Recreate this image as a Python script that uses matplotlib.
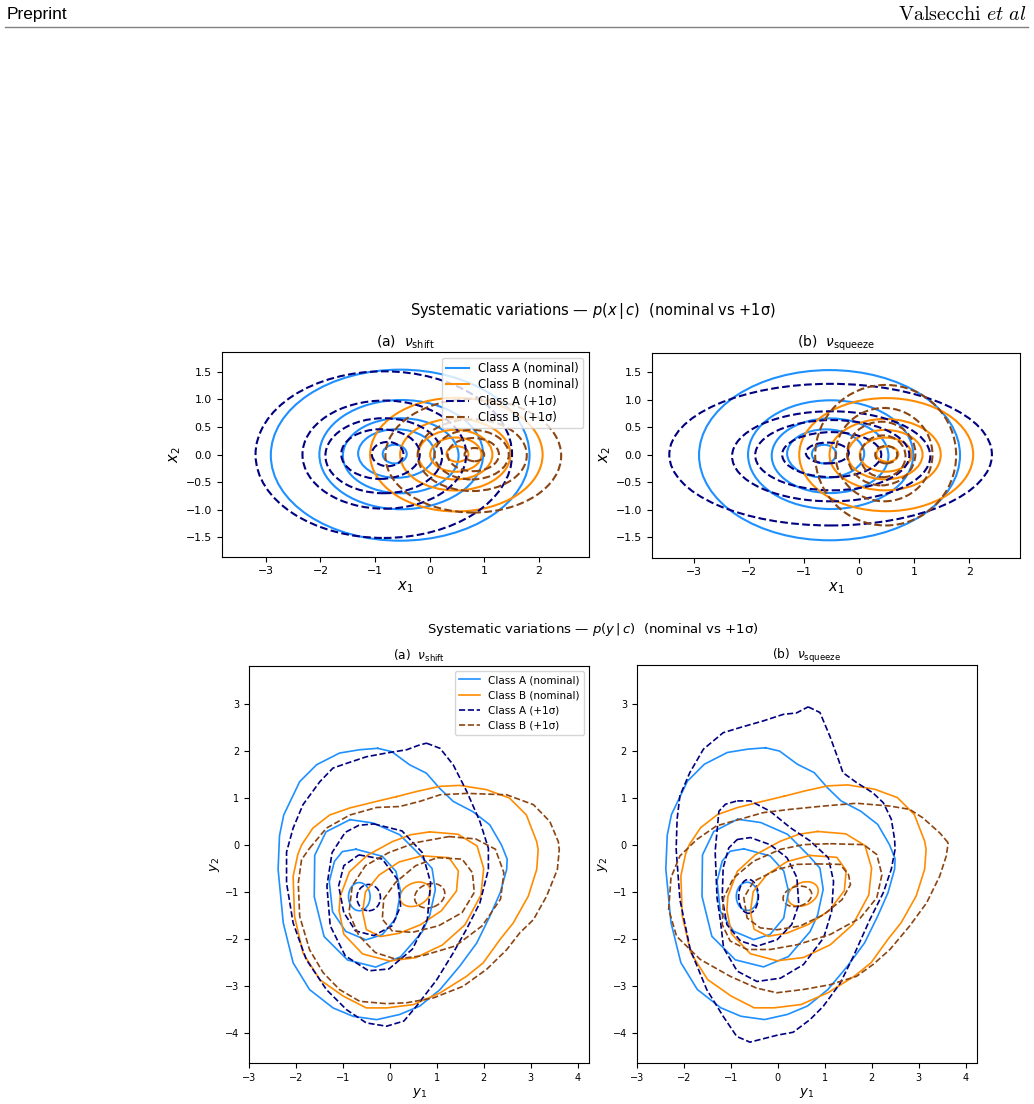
import matplotlib
matplotlib.use("Agg")
import matplotlib.pyplot as plt
from matplotlib.patches import Ellipse
from matplotlib.lines import Line2D

# ---------------- colours / labels ----------------
C_A_NOM = "#1E90FF"
C_B_NOM = "#FF8C00"
C_A_SYS = "#000080"
C_B_SYS = "#8B4513"
legend_labels = ["Class A (nominal)", "Class B (nominal)", "Class A (+1σ)", "Class B (+1σ)"]

# ---------------- figure 1 : p(x|c), contours read as ellipses ----------------
# per level: centre x, centre y, half-width, half-height
xA_nom_cx = [-0.54, -0.52, -0.53, -0.61, -0.64]
xA_nom_cy = [-0.01, 0.00, -0.02, 0.02, 0.01]
xA_nom_hw = [2.37, 1.50, 1.06, 0.70, 0.22]
xA_nom_hh = [1.55, 0.99, 0.68, 0.44, 0.17]

xB_nom_cx = [0.49, 0.47, 0.47, 0.48, 0.51]
xB_nom_cy = [0.00, 0.00, 0.00, 0.00, 0.01]
xB_nom_hw = [1.58, 1.01, 0.68, 0.47, 0.20]
xB_nom_hh = [1.03, 0.65, 0.45, 0.31, 0.14]

xA_shift_cx = [-0.84, -0.83, -0.84, -0.90, -0.77]
xA_shift_cy = [0.00, 0.00, -0.02, 0.01, 0.01]
xA_shift_hw = [2.35, 1.50, 1.07, 0.72, 0.29]
xA_shift_hh = [1.51, 0.98, 0.68, 0.45, 0.22]

xB_shift_cx = [0.80, 0.78, 0.77, 0.80, 0.82]
xB_shift_cy = [-0.02, -0.01, 0.00, 0.00, 0.00]
xB_shift_hw = [1.61, 1.00, 0.68, 0.47, 0.18]
xB_shift_hh = [1.03, 0.65, 0.45, 0.30, 0.12]

xA_sq_cx = [-0.52, -0.51, -0.49, -0.50, -0.58]
xA_sq_cy = [0.00, -0.03, -0.01, 0.00, 0.03]
xA_sq_hw = [2.93, 1.80, 1.40, 0.90, 0.39]
xA_sq_hh = [1.29, 0.82, 0.64, 0.41, 0.19]

xB_sq_cx = [0.48, 0.45, 0.40, 0.43, 0.49]
xB_sq_cy = [-0.01, 0.00, 0.02, -0.03, 0.00]
xB_sq_hw = [1.28, 0.88, 0.62, 0.41, 0.20]
xB_sq_hh = [1.28, 0.85, 0.58, 0.38, 0.16]

# ---------------- figure 2 : p(y|c), contour outlines ----------------
yA_nom_1 = ([-0.26, 0.04, 0.42, 0.78, 1.06, 1.35, 1.77, 2.13, 2.38, 2.50, 2.49, 2.35, 2.13, 1.85, 1.49, 1.07, 0.64, 0.21, -0.28, -0.78, -1.21, -1.71, -2.06, -2.27, -2.38, -2.35, -2.26, -1.92, -1.56, -1.07, -0.64],
            [2.06, 1.99, 1.71, 1.53, 1.21, 0.93, 0.71, 0.43, 0.00, -0.30, -0.52, -1.02, -1.52, -2.09, -2.58, -3.08, -3.43, -3.61, -3.72, -3.65, -3.47, -3.08, -2.51, -1.66, -0.52, 0.20, 0.64, 1.35, 1.71, 1.96, 2.03])
yA_nom_2 = ([-0.85, -0.36, 0.21, 0.64, 0.90, 0.97, 0.85, 0.69, 0.23, -0.30, -0.90, -1.40, -1.61, -1.60, -1.36],
            [0.54, 0.47, 0.22, -0.21, -0.50, -0.95, -1.50, -1.85, -2.38, -2.60, -2.45, -1.95, -1.10, -0.22, 0.28])
yA_nom_3 = ([-0.72, -0.16, 0.13, 0.23, 0.13, -0.16, -0.51, -0.94, -1.22, -1.29, -1.18, -1.01],
            [-0.09, -0.24, -0.56, -0.99, -1.56, -1.91, -2.02, -1.84, -1.42, -0.78, -0.35, -0.14])
yA_nom_4 = (-0.65, -1.10, 0.46, 0.60, 0)   # centre x, centre y, width, height, angle

yB_nom_1 = ([0.14, 0.57, 1.07, 1.49, 2.06, 2.55, 2.91, 3.13, 3.16, 3.13, 2.95, 2.63, 2.35, 1.99, 1.63, 1.07, 0.50, -0.07, -0.50, -0.99, -1.49, -1.85, -2.03, -2.06, -1.96, -1.88, -1.64, -1.28, -0.85, -0.28],
            [1.03, 1.14, 1.25, 1.27, 1.18, 1.00, 0.64, 0.07, -0.10, -0.52, -1.09, -1.66, -2.01, -2.51, -2.80, -3.15, -3.40, -3.47, -3.47, -3.22, -2.87, -2.30, -1.52, -0.67, -0.20, 0.00, 0.36, 0.64, 0.79, 0.93])
yB_nom_2 = ([0.85, 1.45, 1.86, 2.00, 1.94, 1.60, 1.12, 0.55, -0.01, -0.58, -0.98, -1.08, -1.06, -0.86, -0.48, 0.05, 0.45],
            [0.28, 0.23, -0.02, -0.50, -1.07, -1.70, -2.13, -2.40, -2.47, -2.32, -1.90, -1.40, -1.10, -0.57, -0.22, 0.07, 0.22])
yB_nom_3 = ([0.69, 1.26, 1.46, 1.42, 1.10, 0.65, 0.20, -0.20, -0.50, -0.58, -0.52, -0.23, 0.20],
            [-0.23, -0.27, -0.55, -0.98, -1.40, -1.70, -1.88, -1.95, -1.80, -1.43, -1.00, -0.64, -0.36])
yB_nom_4 = (0.54, -1.05, 0.68, 0.48, 25)

yA_shift_1 = ([0.78, 1.07, 1.35, 1.64, 1.92, 2.10, 2.10, 1.92, 1.63, 1.35, 1.00, 0.57, 0.30, -0.07, -0.50, -0.92, -1.35, -1.78, -2.06, -2.20, -2.20, -2.06, -1.85, -1.49, -1.21, -0.92, -0.50, -0.07, 0.36, 0.60],
              [2.17, 2.06, 1.71, 1.14, 0.50, -0.07, -0.52, -1.23, -1.80, -2.30, -2.87, -3.43, -3.75, -3.86, -3.79, -3.51, -3.08, -2.44, -1.66, -0.81, -0.15, 0.36, 0.86, 1.35, 1.64, 1.74, 1.88, 1.96, 2.03, 2.12])
yA_shift_2 = ([-0.34, 0.26, 0.69, 0.87, 0.80, 0.48, -0.02, -0.45, -0.95, -1.27, -1.34, -1.23, -0.95, -0.66],
              [0.45, 0.30, -0.16, -0.80, -1.58, -2.22, -2.64, -2.68, -2.36, -1.72, -0.87, -0.16, 0.27, 0.42])
yA_shift_3 = ([-0.66, -0.16, 0.16, 0.23, 0.05, -0.34, -0.73, -0.98, -1.09, -0.98],
              [-0.21, -0.30, -0.73, -1.30, -1.72, -1.93, -1.83, -1.44, -0.87, -0.44])
yA_shift_4 = (-0.45, -1.12, 0.50, 0.56, 0)

yB_shift_1 = ([-1.71, -1.35, -0.85, -0.28, 0.21, 0.64, 1.07, 1.64, 2.49, 3.06, 3.41, 3.59, 3.61, 3.57, 3.34, 3.06, 2.77, 2.49, 2.06, 1.56, 0.92, 0.36, -0.07, -0.64, -1.07, -1.42, -1.71, -1.92, -1.95, -1.88],
              [-0.07, 0.36, 0.64, 0.80, 0.82, 0.93, 1.07, 1.10, 1.07, 0.86, 0.50, 0.07, -0.10, -0.52, -1.09, -1.59, -1.87, -2.23, -2.65, -3.01, -3.26, -3.36, -3.38, -3.33, -3.08, -2.72, -2.23, -1.52, -0.81, -0.31])
yB_shift_2 = ([1.26, 1.83, 2.25, 2.43, 2.36, 1.97, 1.40, 0.69, 0.12, -0.31, -0.66, -0.87, -0.80, -0.52, -0.02, 0.55],
              [0.18, 0.13, -0.09, -0.59, -1.15, -1.72, -2.15, -2.36, -2.43, -2.29, -1.93, -1.44, -0.87, -0.44, -0.16, 0.05])
yB_shift_3 = ([1.01, 1.54, 1.76, 1.80, 1.54, 1.04, 0.48, 0.05, -0.16, -0.13, 0.12, 0.55],
              [-0.27, -0.30, -0.59, -1.01, -1.44, -1.72, -1.86, -1.83, -1.58, -1.15, -0.80, -0.44])
yB_shift_4 = (0.85, -1.08, 0.66, 0.50, 20)

yA_sq_1 = ([0.65, 0.90, 1.11, 1.29, 1.39, 1.68, 2.03, 2.25, 2.42, 2.49, 2.50, 2.42, 2.25, 1.96, 1.61, 1.33, 0.97, 0.69, 0.33, 0.00, -0.59, -0.87, -1.16, -1.51, -1.86, -2.08, -2.16, -2.14, -2.08, -1.87, -1.58, -1.16, -0.80, -0.31, 0.12, 0.40],
           [2.93, 2.81, 2.31, 1.82, 1.53, 1.32, 1.10, 0.89, 0.54, 0.11, -0.10, -0.52, -1.02, -1.60, -2.38, -2.95, -3.44, -3.72, -3.99, -4.05, -4.20, -4.08, -3.65, -3.08, -2.23, -1.17, -0.10, 0.54, 1.04, 1.53, 2.03, 2.38, 2.49, 2.63, 2.77, 2.80])
yA_sq_2 = ([-0.86, -0.58, -0.16, 0.27, 0.69, 1.08, 1.19, 1.15, 0.98, 0.55, 0.06, -0.44, -0.86, -1.15, -1.22, -1.29, -1.33, -1.25, -1.11],
           [0.93, 0.93, 0.71, 0.36, 0.08, -0.28, -0.78, -1.42, -1.98, -2.55, -2.84, -2.91, -2.69, -2.20, -1.60, -1.13, -0.14, 0.71, 0.86])
yA_sq_3 = ([-0.86, -0.58, -0.16, 0.20, 0.41, 0.45, 0.30, -0.01, -0.44, -0.79, -1.08, -1.18, -1.16, -1.04],
           [0.11, 0.15, 0.00, -0.28, -0.70, -1.27, -1.70, -2.02, -2.16, -2.05, -1.70, -1.13, -0.49, -0.07])
yA_sq_4 = (-0.62, -1.10, 0.42, 0.72, 0)

yB_sq_1 = ([3.63, 3.45, 3.09, 2.81, 2.39, 1.68, 0.97, 0.26, -0.31, -0.80, -1.30, -1.72, -2.08, -2.27, -2.32, -2.15, -1.65, -1.01, -0.45, -0.02, 0.55, 1.11, 1.68, 2.03, 2.39, 2.81, 3.17, 3.45, 3.59],
           [0.04, 0.25, 0.57, 0.75, 0.82, 0.88, 0.82, 0.75, 0.68, 0.54, 0.40, 0.11, -0.24, -0.70, -1.38, -1.95, -2.44, -2.80, -3.05, -3.15, -3.08, -2.98, -2.80, -2.55, -2.23, -1.73, -1.24, -0.67, -0.24])
yB_sq_2 = ([1.12, 1.83, 2.11, 2.22, 2.11, 1.76, 1.12, 0.41, -0.16, -0.65, -1.01, -1.18, -1.15, -0.94, -0.51, 0.06, 0.55],
           [0.02, 0.00, -0.21, -0.64, -1.13, -1.56, -1.91, -2.13, -2.23, -2.23, -2.05, -1.70, -1.13, -0.71, -0.35, -0.10, 0.00])
yB_sq_3 = ([0.84, 1.33, 1.51, 1.55, 1.37, 0.98, 0.48, -0.01, -0.37, -0.65, -0.72, -0.51, -0.01, 0.41],
           [-0.41, -0.42, -0.64, -0.85, -1.17, -1.49, -1.73, -1.81, -1.77, -1.56, -1.13, -0.78, -0.53, -0.42])
yB_sq_4 = (0.42, -1.10, 0.62, 0.42, 15)

x_ticks_top = [-3, -2, -1, 0, 1, 2]
y_ticks_top = [-1.5, -1.0, -0.5, 0.0, 0.5, 1.0, 1.5]
ticks_bot_x = [-3, -2, -1, 0, 1, 2, 3, 4]
ticks_bot_y = [-4, -3, -2, -1, 0, 1, 2, 3]

W, H = 1034, 1104
fig = plt.figure(figsize=(W / 100, H / 100), dpi=100)


def rect(l, t, r, b):
    return [l / W, 1 - b / H, (r - l) / W, (b - t) / H]


def draw_ellipses(ax, cx, cy, hw, hh, color, ls, lw):
    for a, b, w, h in zip(cx, cy, hw, hh):
        ax.add_patch(Ellipse((a, b), 2 * w, 2 * h, fill=False, edgecolor=color,
                             linestyle=ls, linewidth=lw))


def draw_polys(ax, polys, ell, color, ls, lw):
    for xs, ys in polys:
        ax.plot(list(xs) + [xs[0]], list(ys) + [ys[0]], color=color, ls=ls, lw=lw,
                solid_joinstyle="round", dash_joinstyle="round")
    cx, cy, w, h, ang = ell
    ax.add_patch(Ellipse((cx, cy), w, h, angle=ang, fill=False, edgecolor=color,
                         linestyle=ls, linewidth=lw))


def handles(lw):
    return [Line2D([], [], color=C_A_NOM, lw=lw),
            Line2D([], [], color=C_B_NOM, lw=lw),
            Line2D([], [], color=C_A_SYS, lw=lw, ls="--"),
            Line2D([], [], color=C_B_SYS, lw=lw, ls="--")]


# ---- header ----
fig.text(7 / W, 1 - 14 / H, "Preprint", family="Liberation Sans", fontsize=12.5,
         ha="left", va="center")
fig.text(1027 / W, 1 - 14 / H, r"$\mathrm{Valsecchi}\ et\ al$",
         math_fontfamily="cm", fontsize=14.5, ha="right", va="center")
fig.add_artist(Line2D([5 / W, 1028 / W], [1 - 27 / H, 1 - 27 / H], color="#808080", lw=1.0))

# ---- figure 1 ----
fig.text(593 / W, 1 - 311 / H, r"Systematic variations — $p(x\,|\,c)$  (nominal vs +1σ)",
         ha="center", va="center", fontsize=10.5)

TOP_LW = 1.5
ax1 = fig.add_axes(rect(221.7, 352, 589, 556.7))
draw_ellipses(ax1, xA_nom_cx, xA_nom_cy, xA_nom_hw, xA_nom_hh, C_A_NOM, "-", TOP_LW)
draw_ellipses(ax1, xB_nom_cx, xB_nom_cy, xB_nom_hw, xB_nom_hh, C_B_NOM, "-", TOP_LW)
draw_ellipses(ax1, xA_shift_cx, xA_shift_cy, xA_shift_hw, xA_shift_hh, C_A_SYS, "--", TOP_LW)
draw_ellipses(ax1, xB_shift_cx, xB_shift_cy, xB_shift_hw, xB_shift_hh, C_B_SYS, "--", TOP_LW)
ax1.set_xlim(-3.81, 2.92)
ax1.set_ylim(-1.85, 1.86)
ax1.set_title(r"(a)  $\nu_{\mathrm{shift}}$", fontsize=10, pad=4)
ax1.legend(handles(TOP_LW), legend_labels, loc="upper right", fontsize=8.3,
           labelspacing=0.3, borderpad=0.35)

ax2 = fig.add_axes(rect(651.7, 352.7, 1020, 557.7))
draw_ellipses(ax2, xA_nom_cx, xA_nom_cy, xA_nom_hw, xA_nom_hh, C_A_NOM, "-", TOP_LW)
draw_ellipses(ax2, xB_nom_cx, xB_nom_cy, xB_nom_hw, xB_nom_hh, C_B_NOM, "-", TOP_LW)
draw_ellipses(ax2, xA_sq_cx, xA_sq_cy, xA_sq_hw, xA_sq_hh, C_A_SYS, "--", TOP_LW)
draw_ellipses(ax2, xB_sq_cx, xB_sq_cy, xB_sq_hw, xB_sq_hh, C_B_SYS, "--", TOP_LW)
ax2.set_xlim(-3.77, 2.92)
ax2.set_ylim(-1.877, 1.857)
ax2.set_title(r"(b)  $\nu_{\mathrm{squeeze}}$", fontsize=10, pad=4)

for ax in (ax1, ax2):
    ax.set_xticks(x_ticks_top)
    ax.set_yticks(y_ticks_top)
    ax.tick_params(labelsize=7.8)
    ax.set_xlabel(r"$x_1$", fontsize=10.5, labelpad=2)
    ax.set_ylabel(r"$x_2$", fontsize=10.5, labelpad=2)

# ---- figure 2 ----
fig.text(593 / W, 1 - 629 / H, r"Systematic variations — $p(y\,|\,c)$  (nominal vs +1σ)",
         ha="center", va="center", fontsize=9.5)

BOT_LW = 1.2
ax3 = fig.add_axes(rect(249, 665.7, 589.3, 1063.3))
draw_polys(ax3, [yA_nom_1, yA_nom_2, yA_nom_3], yA_nom_4, C_A_NOM, "-", BOT_LW)
draw_polys(ax3, [yB_nom_1, yB_nom_2, yB_nom_3], yB_nom_4, C_B_NOM, "-", BOT_LW)
draw_polys(ax3, [yA_shift_1, yA_shift_2, yA_shift_3], yA_shift_4, C_A_SYS, "--", BOT_LW)
draw_polys(ax3, [yB_shift_1, yB_shift_2, yB_shift_3], yB_shift_4, C_B_SYS, "--", BOT_LW)
ax3.set_title(r"(a)  $\nu_{\mathrm{shift}}$", fontsize=8.8, pad=4)
ax3.legend(handles(BOT_LW), legend_labels, loc="upper right", fontsize=7.5)

ax4 = fig.add_axes(rect(636.7, 665, 977.3, 1063.3))
draw_polys(ax4, [yA_nom_1, yA_nom_2, yA_nom_3], yA_nom_4, C_A_NOM, "-", BOT_LW)
draw_polys(ax4, [yB_nom_1, yB_nom_2, yB_nom_3], yB_nom_4, C_B_NOM, "-", BOT_LW)
draw_polys(ax4, [yA_sq_1, yA_sq_2, yA_sq_3], yA_sq_4, C_A_SYS, "--", BOT_LW)
draw_polys(ax4, [yB_sq_1, yB_sq_2, yB_sq_3], yB_sq_4, C_B_SYS, "--", BOT_LW)
ax4.set_title(r"(b)  $\nu_{\mathrm{squeeze}}$", fontsize=8.8, pad=4)

for ax in (ax3, ax4):
    ax.set_xlim(-3.0, 4.25)
    ax.set_ylim(-4.65, 3.82)
    ax.set_xticks(ticks_bot_x)
    ax.set_yticks(ticks_bot_y)
    ax.tick_params(labelsize=7.0)
    ax.set_xlabel(r"$y_1$", fontsize=9.5, labelpad=2)
    ax.set_ylabel(r"$y_2$", fontsize=9.5, labelpad=2)

fig.savefig("out.png", dpi=100)
